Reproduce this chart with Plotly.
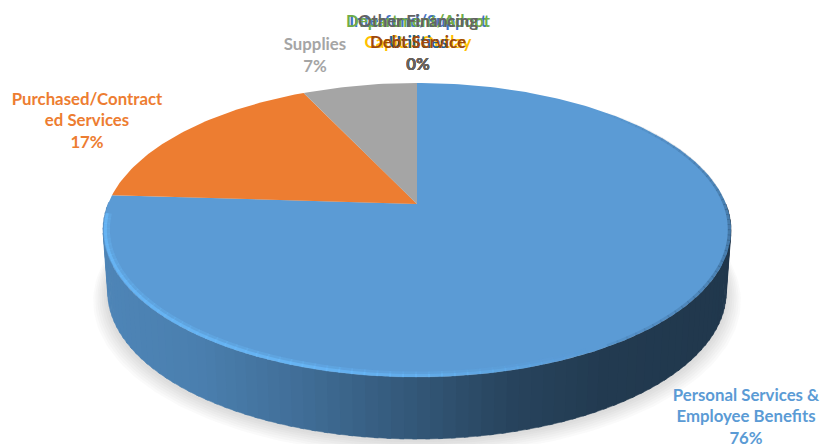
import numpy as np
import plotly.graph_objects as go

# ---- data ----
categories = ["Personal Services & Employee Benefits", "Purchased/Contracted Services", "Supplies",
              "Capital Outlay", "Interfund Support", "Departmental Funding", "Utilities", "Debt Service", "Other Financing"]
values = [76, 17, 7, 0, 0, 0, 0, 0, 0]
colors = ["#5B9BD5", "#ED7D31", "#A5A5A5", "#FFC000", "#4472C4", "#70AD47", "#255E91", "#9E480E", "#636363"]
label_lines = [
    ["Personal Services &", "Employee Benefits", "76%"],
    ["Purchased/Contract", "ed Services", "17%"],
    ["Supplies", "7%"],
    ["", "Capital Outlay", "0%"],
    ["Interfund/Support", "", "0%"],
    ["Department/Adopt", "", "0%"],
    ["", "Utilities", "0%"],
    ["", "Debt Service", "0%"],
    ["Other Financing", "", "0%"],
]
label_anchor = [(746, 396.5), (87, 100.5), (315, 46), (418, 22.5), (418, 22.5), (418, 22.5), (418, 22.5), (418, 22.5), (418, 22.5)]

# ---- projection of the disc ----
CX, CY, A, B, K = 417, 204, 309, 142.4, 0.177
DEPTH = 62


def proj(t, r=1.0, drop=0.0, shrink=1.0):
    X, Y = r * np.sin(t), r * np.cos(t)
    s = 1 / (1 + K * Y)
    return CX + A * shrink * X * s, CY - B * Y * s + drop


def poly(x, y, color, line=None, lw=0):
    return go.Scatter(x=list(x), y=list(y), mode="lines", fill="toself", fillcolor=color,
                      line=dict(color=line or "rgba(0,0,0,0)", width=lw),
                      hoverinfo="skip", showlegend=False)


fig = go.Figure()

# soft shadow
tt = np.linspace(0, 2 * np.pi, 240)
for g in range(7, 0, -1):
    x, y = proj(tt, r=1 + g * 0.0065, drop=DEPTH + 1 + g * 0.8, shrink=0.985)
    fig.add_trace(poly(x, y, "rgba(120,120,120,0.035)"))

# slice angles, clockwise from 12 o'clock, largest first
frac = np.array(values, float) / sum(values)
ends = np.cumsum(frac) * 2 * np.pi
starts = ends - frac * 2 * np.pi

# wall
stops_x = [0.0, 0.15, 0.3, 0.5, 0.65, 0.8, 1.0]
stops_f = [0.86, 0.82, 0.72, 0.56, 0.44, 0.38, 0.36]
edges = np.radians(np.arange(90, 272, 2.0))
for t0, t1 in zip(edges[:-1], edges[1:]):
    tm = (t0 + t1) / 2
    i = int(np.searchsorted(ends, tm))
    base = colors[i].lstrip("#")
    rgb = np.array([int(base[j:j + 2], 16) for j in (0, 2, 4)])
    mx = proj(tm)[0]
    f = np.interp((mx - 105) / 625, stops_x, stops_f)
    shade = "rgb(%d,%d,%d)" % tuple(rgb * f)
    ts = np.linspace(t0, t1 + 0.012, 4)
    xt, yt = proj(ts)
    xb, yb = proj(ts[::-1], drop=DEPTH, shrink=0.985)
    fig.add_trace(poly(np.r_[xt, xb], np.r_[yt, yb], shade, shade, 0.5))

# top face slices
for i in range(3):
    ts = np.linspace(starts[i], ends[i], max(int(frac[i] * 360), 3))
    x, y = proj(ts)
    fig.add_trace(poly(np.r_[CX, x, CX], np.r_[CY, y, CY], colors[i]))

# bevel highlight along the front rim, fading to the right
hl = np.radians(np.arange(150, 268, 2.0))
for t0, t1 in zip(hl[:-1], hl[1:]):
    strength = np.clip((np.degrees(t0) - 150) / 45, 0, 1)
    for rr, w, a in ((0.988, 6, 0.3), (0.993, 3, 0.7)):
        x, y = proj(np.array([t0, t1 + 0.005]), r=rr)
        fig.add_trace(go.Scatter(x=list(x), y=list(y), mode="lines", hoverinfo="skip", showlegend=False,
                                 line=dict(color="rgba(105,185,250,%.3f)" % (a * strength), width=w)))
# dark soft edge on the right
dk = np.radians(np.arange(40, 150, 2.0))
for t0, t1 in zip(dk[:-1], dk[1:]):
    strength = np.clip(1 - abs(np.degrees(t0) - 100) / 60, 0, 1)
    x, y = proj(np.array([t0, t1 + 0.005]), r=0.995)
    fig.add_trace(go.Scatter(x=list(x), y=list(y), mode="lines", hoverinfo="skip", showlegend=False,
                             line=dict(color="rgba(30,60,90,%.3f)" % (0.35 * strength), width=3)))

# data labels
LINE_H = 21.8
for i, lines in enumerate(label_lines):
    ax, ay = label_anchor[i]
    xs, ys, txt = [], [], []
    for j, s in enumerate(lines):
        if s:
            xs.append(ax); ys.append(ay + j * LINE_H); txt.append(s)
    fig.add_trace(go.Scatter(x=xs, y=ys, text=txt, mode="text", textposition="middle center",
                             textfont=dict(family="Lato, Carlito, sans-serif", size=16.8, color=colors[i], weight="bold"),
                             hoverinfo="skip", showlegend=False, cliponaxis=False))

fig.update_layout(
    width=833, height=444, margin=dict(l=0, r=0, t=0, b=0),
    paper_bgcolor="white", plot_bgcolor="white", showlegend=False,
    xaxis=dict(range=[0, 833], visible=False, fixedrange=True),
    yaxis=dict(range=[444, 0], visible=False, fixedrange=True),
)
fig.write_html("out.html", config={"displayModeBar": False},
               post_script="document.body.style.margin='0';document.documentElement.style.overflow='hidden';")
